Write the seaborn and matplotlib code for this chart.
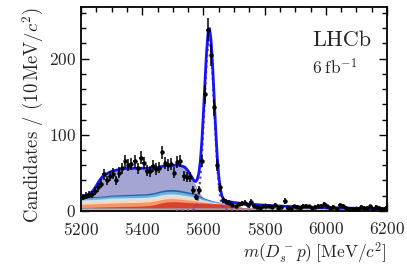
"""
LHCb style fit of the m(Ds- p) spectrum: data, stacked background
components, signal shape and total fit.
"""

import matplotlib
matplotlib.use('Agg')
import matplotlib.pyplot as plt
from matplotlib.ticker import MultipleLocator
import numpy as np
import seaborn as sns

# data: 10 MeV bins from 5200 to 6200
bin_centers = np.arange(5205, 6200, 10)
counts = [18, 20, 21, 22, 26, 31, 36, 48, 40, 46,
          49, 40, 50, 56, 65, 60, 62, 65, 56, 70,
          63, 53, 52, 59, 55, 57, 77, 63, 60, 62,
          50, 64, 66, 46, 44, 45, 27, 18, 27, 66,
          153, 238, 205, 136, 60, 31, 14, 12, 11, 8,
          6, 9, 10, 11, 8, 12, 6, 5, 4, 7,
          7, 6, 5, 8, 4, 5, 13, 4, 3, 6,
          5, 4, 7, 7, 6, 4, 5, 7, 7, 9,
          6, 4, 5, 3, 8, 7, 4, 3, 3, 2,
          3, 5, 4, 4, 6, 3, 5, 4, 3, 4]

# stacked background components (upper edge of each layer)
bands_mass = np.arange(5200, 5781, 20)
red_top = [4.5, 4.7, 4.9, 5.1, 5.3, 5.5, 5.7, 5.9, 6.0, 6.2, 6.5, 7.0, 8.2, 10.3, 11.8,
           12.2, 11.9, 11.3, 10.8, 10.5, 10.3, 10.0, 9.6, 9.0, 7.9, 6.4, 4.9, 3.8, 3.3, 3.0]
orange_top = [8.7, 9.0, 9.3, 9.6, 9.9, 10.4, 10.6, 10.8, 11.0, 11.1, 11.4, 11.8, 12.9, 14.8, 16.0,
              16.2, 15.7, 14.8, 14.0, 12.7, 11.5, 10.5, 9.7, 9.0, 7.9, 6.4, 4.9, 3.8, 3.3, 3.0]
peach_top = [11.7, 12.1, 12.5, 12.8, 13.2, 13.8, 14.0, 14.2, 14.4, 14.5, 14.8, 15.1, 16.1, 17.9, 19.0,
             19.2, 18.6, 17.5, 16.4, 14.5, 12.6, 11.0, 9.9, 9.1, 7.9, 6.4, 4.9, 3.8, 3.3, 3.0]
lightblue_top = [14.2, 14.7, 15.2, 15.6, 16.1, 16.8, 17.0, 17.2, 17.4, 17.5, 17.8, 18.1, 19.2, 21.0, 22.2,
                 22.4, 21.7, 20.4, 19.1, 17.0, 14.4, 12.4, 11.0, 9.8, 8.3, 6.6, 4.9, 3.8, 3.3, 3.0]
blue_top = [16.4, 17.0, 17.6, 18.0, 18.6, 19.4, 19.6, 19.9, 20.1, 20.3, 20.6, 21.1, 22.4, 24.4, 25.7,
            25.9, 25.1, 23.6, 22.1, 19.6, 16.2, 13.8, 12.0, 10.5, 8.8, 6.8, 4.9, 3.8, 3.3, 3.0]
darkblue_top = [17.4, 18.1, 18.8, 19.3, 20.0, 20.9, 21.2, 21.6, 21.9, 22.1, 22.4, 23.0, 24.4, 26.6, 28.1,
                28.4, 27.5, 25.9, 24.2, 21.4, 17.4, 14.6, 12.5, 10.9, 9.0, 6.9, 4.9, 3.8, 3.3, 3.0]

# partially reconstructed background (lavender), upper edge
lav_mass = np.arange(5200, 5621, 10)
lav_top = [19, 20, 21, 23, 27, 33, 40, 45, 48, 50, 52, 53, 54, 55, 55.5, 56, 56, 56, 56, 56,
           56, 56, 56, 56, 56.5, 57, 58, 59, 60, 60, 60, 60, 60, 59, 57, 52, 45, 37, 30, 22,
           17.4, 15, 14.6]

# combinatorial background (gray)
comb_mass = [5200, 5600, 6000, 6200]
comb_top = [3.0, 2.8, 2.5, 2.4]

# total fit
fit_mass = np.r_[np.arange(5200, 5560, 10), np.arange(5560, 5680, 5),
                 np.arange(5680, 5800, 20), np.arange(5800, 6201, 50)]
fit_total = [19, 20, 21, 23, 27, 33, 40, 45, 48, 50, 52, 53, 54, 55, 55.5, 56, 56, 56,
             56, 56, 56, 56, 56, 56, 56.5, 57, 58, 59, 60, 60, 60, 60, 60, 59, 57.3, 52.5,
             45.8, 42.2, 39.5, 38.6, 41.5, 49.5, 65.5, 92.5, 128.4, 169, 207, 232.8,
             239.6, 224, 191.5, 150, 107.5, 72.3, 46.1, 29.9, 20.2, 16.1, 13.9, 13.0,
             12.4, 11.1, 10.0, 9.3, 8.7, 8.1,
             7.5, 6.4, 5.6, 4.9, 4.4, 3.9, 3.5, 3.2, 3.0]

# signal shape
sig_mass = np.r_[[5510, 5530, 5550], np.arange(5560, 5680, 5), [5680, 5700, 5730, 5760]]
sig_yield = [0.2, 0.4, 0.6,
             0.8, 1.2, 2.5, 5.1, 11.5, 23.5, 43.5, 73, 111, 153, 192, 218,
             225, 210, 178, 137, 95, 60, 34, 18, 8.5, 4.5, 2.5, 1.8,
             1.3, 0.6, 0.4, 0.3]

sns.set_theme(style='ticks')
plt.rcParams['font.family'] = 'serif'
plt.rcParams['font.serif'] = ['cmr10', 'DejaVu Serif']
plt.rcParams['mathtext.fontset'] = 'cm'
plt.rcParams['axes.unicode_minus'] = False
plt.rcParams['axes.formatter.use_mathtext'] = True

fig = plt.figure(figsize=(4.07, 2.65), dpi=100)
ax = fig.add_axes([0.199, 0.204, 0.752, 0.770])

# layers drawn from the tallest down so each one covers the one before
ax.fill_between(lav_mass, 0, lav_top, color='#a5a5d2', lw=0, zorder=1)
layers = [(darkblue_top, '#2a66ad'), (blue_top, '#6fb0d8'),
          (lightblue_top, '#cfe5f1'), (peach_top, '#fdd5b8'),
          (orange_top, '#f6956a'), (red_top, '#d8412c')]
for top, colour in layers:
    ax.fill_between(bands_mass, 0, top, color=colour, lw=0, zorder=1)
ax.fill_between(comb_mass, 0, comb_top, color='#cccccc', lw=0, zorder=2)
ax.plot(comb_mass, comb_top, color='#999999', lw=0.8, zorder=2)

sns.lineplot(x=sig_mass, y=sig_yield, ax=ax, color='#7440a8', lw=1.6,
             linestyle=(0, (1, 1.5)), zorder=3)
sns.lineplot(x=fit_mass, y=fit_total, ax=ax, color='#1414ff', lw=2.0, zorder=4)

ax.errorbar(bin_centers, counts, yerr=np.sqrt(counts), xerr=5, fmt='o',
            ms=2.2, color='black', elinewidth=1.1, capsize=0, zorder=5)

ax.set_xlim(5200, 6200)
ax.set_ylim(0, 268)
ax.xaxis.set_major_locator(MultipleLocator(200))
ax.xaxis.set_minor_locator(MultipleLocator(50))
ax.yaxis.set_major_locator(MultipleLocator(100))
ax.yaxis.set_minor_locator(MultipleLocator(20))
ax.tick_params(which='both', direction='in', top=True, right=True,
               labelsize=12.5, width=1, color='black')
ax.tick_params(which='major', length=6)
ax.tick_params(axis='x', which='major', pad=7)
ax.tick_params(which='minor', length=3.5)
for spine in ax.spines.values():
    spine.set_linewidth(1.3)
    spine.set_color('black')

ax.set_xlabel(r'$m(D_s^- p)\;[\mathrm{MeV}/c^2]$', fontsize=12.5, loc='right',
              labelpad=2)
ax.set_ylabel(r'Candidates / $(10\,\mathrm{MeV}/c^2)$', fontsize=13.5,
              loc='top', labelpad=2)

ax.text(0.755, 0.885, 'LHCb', transform=ax.transAxes, fontsize=16,
        ha='left', va='top')
ax.text(0.755, 0.755, r'$6\;\mathrm{fb}^{-1}$', transform=ax.transAxes,
        fontsize=12.5, ha='left', va='top')

fig.savefig('out.png', dpi=100)
